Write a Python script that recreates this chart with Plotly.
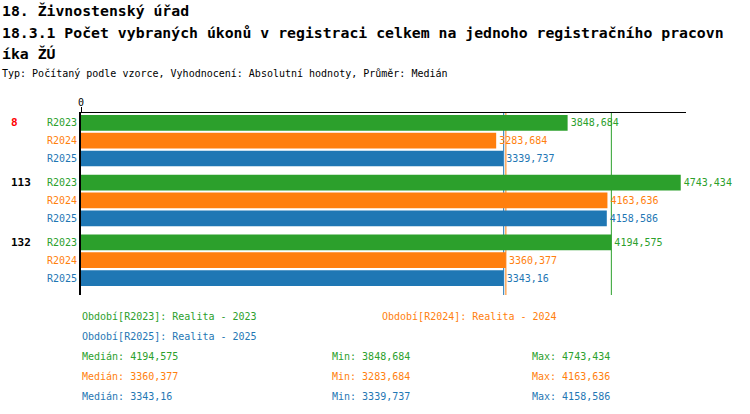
import numpy as np
import plotly.graph_objects as go

# data
groups = ["8", "113", "132"]
group_colors = ["#ff0000", "#000000", "#000000"]
periods = ["R2023", "R2024", "R2025"]
period_names = ["Realita - 2023", "Realita - 2024", "Realita - 2025"]
v2023 = [3848.684, 4743.434, 4194.575]
v2024 = [3283.684, 4163.636, 3360.377]
v2025 = [3339.737, 4158.586, 3343.16]

series = [v2023, v2024, v2025]
colors = ["#2ca02c", "#ff7f0e", "#1f77b4"]
FONT = "DejaVu Sans Mono"
GAP = 0.35  # extra space between groups, in bar slots

# plot area in pixels (750x414 page)
L, R, T, B = 81, 64, 113, 119


def fmt(v):
    return str(round(float(v), 3)).replace(".", ",")


def ypos(g, s):
    return g * (len(periods) + GAP) + s


fig = go.Figure()
for s, vals in enumerate(series):
    fig.add_trace(go.Bar(
        x=vals,
        y=[ypos(g, s) for g in range(len(groups))],
        orientation="h",
        width=0.88,
        marker_color=colors[s],
        marker_line_width=0,
        text=[fmt(v) for v in vals],
        textposition="outside",
        textfont=dict(family=FONT, size=10, color=colors[s]),
        constraintext="none",
        cliponaxis=False,
        name=periods[s],
        showlegend=False,
    ))

annotations = []
shapes = []

# category labels and group labels on the left
for g, grp in enumerate(groups):
    annotations.append(dict(
        x=0, xref="paper", y=ypos(g, 0), yref="y", text="<b>%s</b>" % grp,
        xanchor="left", xshift=-L + 9, showarrow=False,
        font=dict(family=FONT, size=11, color=group_colors[g])))
    for s, p in enumerate(periods):
        annotations.append(dict(
            x=0, xref="paper", y=ypos(g, s), yref="y", text=p,
            xanchor="right", xshift=-2, showarrow=False,
            font=dict(family=FONT, size=10, color=colors[s])))

# median lines (behind the bars)
for s, vals in enumerate(series):
    shapes.append(dict(type="line", xref="x", yref="paper", layer="below",
                       x0=float(np.median(vals)), x1=float(np.median(vals)),
                       y0=0, y1=1, line=dict(color=colors[s], width=1)))


def note(text, px, py, color, size=10, bold=False):
    if bold:
        text = "<b>%s</b>" % text
    annotations.append(dict(
        x=0, xref="paper", y=0, yref="paper", text=text,
        xanchor="left", yanchor="middle", xshift=px - L, yshift=(414 - B) - py,
        showarrow=False, font=dict(family=FONT, size=size, color=color)))


# titles
note("18. Živnostenský úřad", 0, 10, "#000000", 14.8, True)
note("18.3.1 Počet vybraných úkonů v registraci celkem na jednoho registračního pracovn",
     0, 32, "#000000", 14.8, True)
note("íka ŽÚ", 0, 53, "#000000", 14.8, True)
note("Typ: Počítaný podle vzorce, Vyhodnocení: Absolutní hodnoty, Průměr: Medián",
     0, 73, "#000000", 10)

# legend of periods
note("Období[%s]: %s" % (periods[0], period_names[0]), 80, 316, colors[0])
note("Období[%s]: %s" % (periods[1], period_names[1]), 380, 316, colors[1])
note("Období[%s]: %s" % (periods[2], period_names[2]), 80, 336, colors[2])

# summary statistics
for s, vals in enumerate(series):
    py = 356 + 20 * s
    note("Medián: " + fmt(np.median(vals)), 80, py, colors[s])
    note("Min: " + fmt(min(vals)), 330, py, colors[s])
    note("Max: " + fmt(max(vals)), 530, py, colors[s])

last = ypos(len(groups) - 1, len(periods) - 1)
fig.update_layout(
    width=750, height=414,
    margin=dict(l=L, r=R, t=T, b=B, pad=0),
    paper_bgcolor="white", plot_bgcolor="white",
    barmode="overlay",
    xaxis=dict(range=[0, 4785], side="top", tickvals=[0], ticktext=["0"],
               ticks="outside", ticklen=5, tickcolor="black",
               ticklabelstandoff=-3,
               tickfont=dict(family=FONT, size=10, color="black"),
               showline=True, linecolor="black", linewidth=1,
               showgrid=False, zeroline=False, fixedrange=True),
    yaxis=dict(range=[last + 0.95, -0.55], showticklabels=False, ticks="",
               showline=True, linecolor="black", linewidth=2,
               showgrid=False, zeroline=False, fixedrange=True),
    annotations=annotations,
    shapes=shapes,
    font=dict(family=FONT),
)

# drop the default page margin so the figure sits at the window corner
fig.write_html("out.html", config={"displayModeBar": False},
               post_script="document.body.style.margin='0';")
